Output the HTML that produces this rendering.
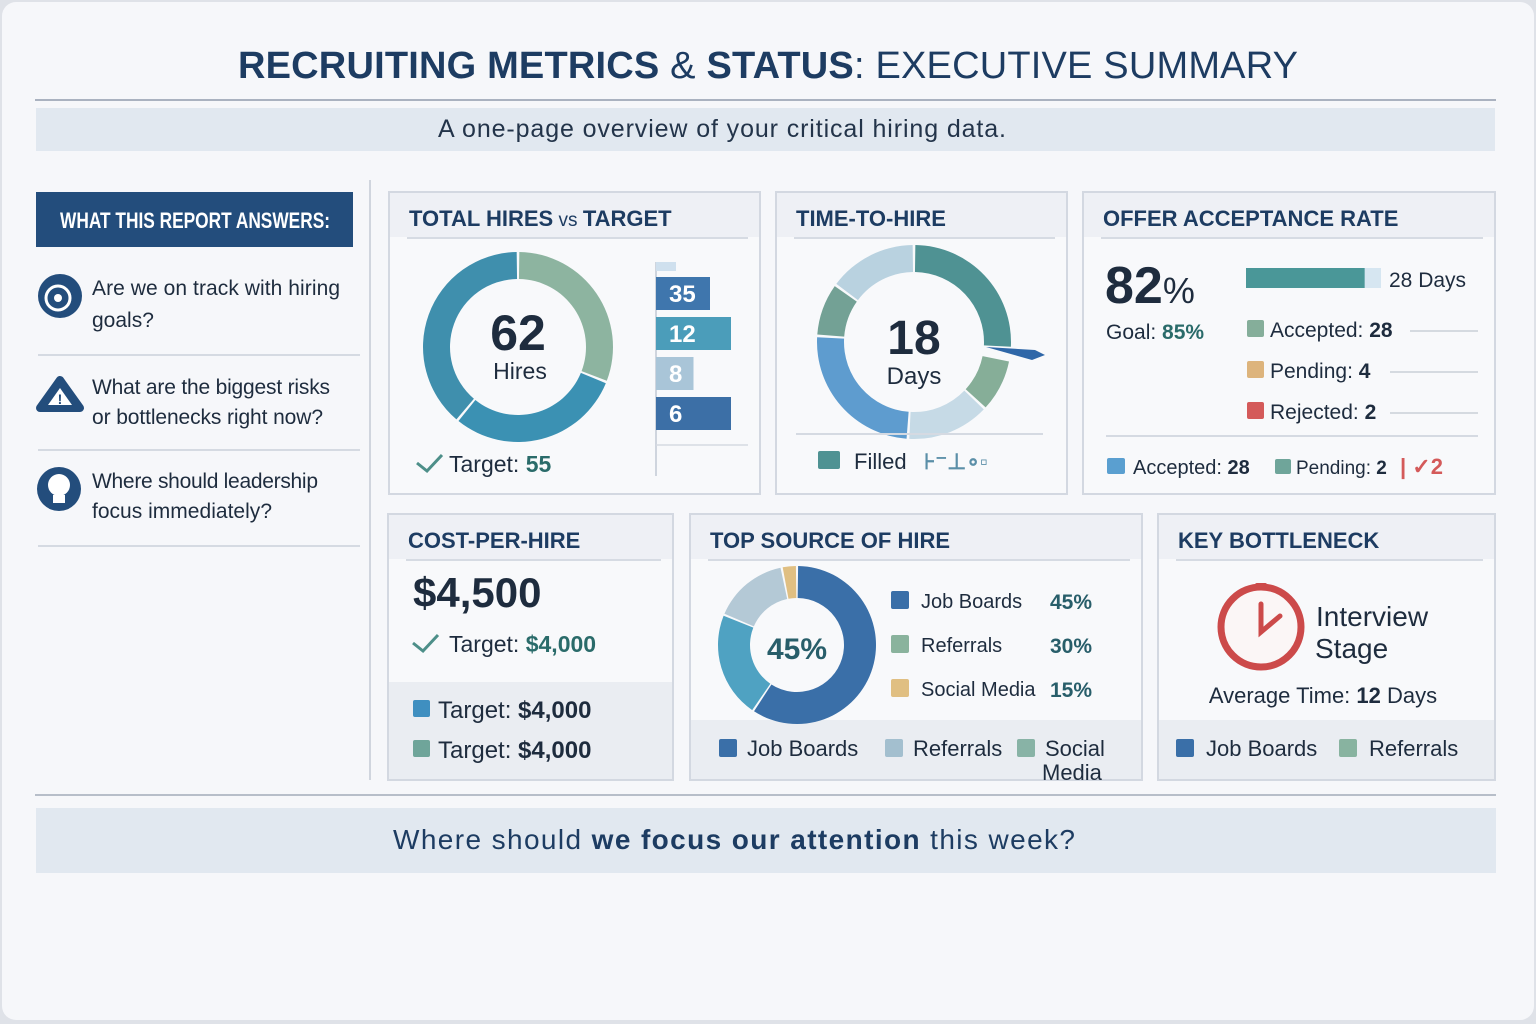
<!DOCTYPE html>
<html><head><meta charset="utf-8"><style>
html,body{margin:0;padding:0;background:#eceef3;}
svg{display:block;font-family:"Liberation Sans",sans-serif;}
.h{font-weight:bold;fill:#1d3c62;}
.t{fill:#1e2c3e;}
</style></head><body>
<svg id="root" width="1536" height="1024" viewBox="0 0 1536 1024">
<rect x="0" y="0" width="1536" height="1024" fill="#dfe2e8"/>
<rect x="2" y="2" width="1532" height="1018" rx="14" fill="#f6f7fa"/>
<text x="768" y="78" text-anchor="middle" font-size="38" class="h" textLength="1060">RECRUITING METRICS <tspan font-weight="normal">&amp;</tspan> STATUS<tspan font-weight="normal">: EXECUTIVE SUMMARY</tspan></text>
<line x1="35" y1="100" x2="1496" y2="100" stroke="#aab2c0" stroke-width="2"/>
<rect x="36" y="108" width="1459" height="43" fill="#e1e8f0"/>
<text x="722" y="137" text-anchor="middle" font-size="25" fill="#23344a" textLength="568">A one-page overview of your critical hiring data.</text>

<!-- left panel -->
<rect x="36" y="192" width="317" height="55" fill="#234d7c"/>
<text x="60" y="228" font-size="22" font-weight="bold" fill="#fff" textLength="270" lengthAdjust="spacingAndGlyphs">WHAT THIS REPORT ANSWERS:</text>
<line x1="370" y1="180" x2="370" y2="780" stroke="#d0d5de" stroke-width="2"/>
<g>
<circle cx="60" cy="296" r="22" fill="#234d7c"/><circle cx="58" cy="298" r="12" fill="none" stroke="#fff" stroke-width="3"/><circle cx="58" cy="298" r="4" fill="#fff"/>
<text x="92" y="295" font-size="21" class="t" textLength="248">Are we on track with hiring</text><text x="92" y="327" font-size="21" class="t">goals?</text></g>
<line x1="38" y1="355" x2="360" y2="355" stroke="#d5dae2" stroke-width="2"/>
<g>
<path d="M60 380 L80 408 L40 408 Z" fill="#234d7c" stroke="#234d7c" stroke-width="8" stroke-linejoin="round"/><path d="M60 388 L72 405 L48 405 Z" fill="#fff"/><text x="60" y="404" text-anchor="middle" font-size="14" font-weight="bold" fill="#234d7c">!</text>
<text x="92" y="394" font-size="21" class="t" textLength="238">What are the biggest risks</text><text x="92" y="424" font-size="21" class="t" textLength="231">or bottlenecks right now?</text></g>
<line x1="38" y1="450" x2="360" y2="450" stroke="#d5dae2" stroke-width="2"/>
<g>
<circle cx="59" cy="489" r="22" fill="#234d7c"/><circle cx="59" cy="485" r="11" fill="#fff"/><rect x="53" y="495" width="12" height="8" fill="#fff"/>
<text x="92" y="488" font-size="21" class="t" textLength="226">Where should leadership</text><text x="92" y="518" font-size="21" class="t" textLength="180">focus immediately?</text></g>
<line x1="38" y1="546" x2="360" y2="546" stroke="#d5dae2" stroke-width="2"/>

<g id="cards"></g>
<g id="charts"></g>

<line x1="35" y1="795" x2="1496" y2="795" stroke="#b7bec9" stroke-width="2"/>
<rect x="36" y="808" width="1460" height="65" fill="#e1e8f0"/>
<text x="734" y="849" text-anchor="middle" font-size="28" fill="#1d3c62" textLength="682">Where should <tspan font-weight="bold">we focus our attention</tspan> this week?</text>
</svg>
<script>
const NS="http://www.w3.org/2000/svg";
const cardsG=document.getElementById('cards');
const chartsG=document.getElementById('charts');
function mk(tag,attrs,parent,text){const e=document.createElementNS(NS,tag);for(const k in attrs)e.setAttribute(k,attrs[k]);if(text!==undefined)e.textContent=text;(parent||chartsG).appendChild(e);return e;}

// ---- data ----
const hiresTotal=62, hiresTarget=55;
const hiresSegLabels=['Referrals','Agency','Job Boards'];
const hiresSegValues=[31,30,39];
const hiresSegColors=['#8db4a0','#3b91b3','#3f8fad'];
const barLabels=[35,12,8,6];
const barValues=[72,100,50,100];
const barColors=['#3f76ad','#4b9dba','#a9c5d8','#3c6fa6'];
const tthDays=18;
const tthSegValues=[26,2,9,14,25,9,15];
const tthSegColors=['#4f9293','#f6f7fa','#86ae98','#c6dae6','#5e9ccf','#73a195','#b9d2e0'];
const offerRate=82, offerGoal=85;
const offerBarValues=[88,12];
const offerStatusLabels=['Accepted','Pending','Rejected'];
const offerStatusValues=[28,4,2];
const offerStatusColors=['#85ae9a','#ddb47c','#d45a5a'];
const sourceLabels=['Job Boards','Referrals','Social Media'];
const sourceValues=[45,30,15];
const sourceDonutValues=[57,21,15,3];
const sourceDonutColors=['#3a6fa8','#4fa2c2','#b4c9d6','#e0bf82'];
const sourceLegendColors=['#3a6fa8','#8ab39d','#e0bf82'];

// ---- cards ----
const cards=[
 ['total-hires-card',389,192,371,302,'TOTAL HIRES',' vs ','TARGET'],
 ['time-to-hire-card',776,192,291,302,'TIME-TO-HIRE'],
 ['offer-acceptance-card',1083,192,412,302,'OFFER ACCEPTANCE RATE'],
 ['cost-per-hire-card',388,514,285,266,'COST-PER-HIRE'],
 ['top-source-card',690,514,452,266,'TOP SOURCE OF HIRE'],
 ['key-bottleneck-card',1158,514,337,266,'KEY BOTTLENECK']];
cards.forEach(c=>{
 const g=mk('g',{},cardsG);
 
 
 mk('rect',{x:c[1],y:c[2],width:c[3],height:c[4],fill:'#f8f9fb',stroke:'#d3d8e1','stroke-width':2},g);
 mk('rect',{x:c[1]+1,y:c[2]+1,width:c[3]-2,height:44,fill:'#eef0f5'},g);
 mk('line',{x1:c[1]+18,y1:c[2]+46,x2:c[1]+c[3]-12,y2:c[2]+46,stroke:'#d6dbe3','stroke-width':2},g);
 const t=mk('text',{x:c[1]+20,y:c[2]+34,'font-size':22,class:'h'},g);
 
 
 t.textContent=c[5];
 if(c[6]){mk('tspan',{'font-weight':'normal','font-size':19},t,c[6]);mk('tspan',{},t,c[7]);}
});

function arc(cx,cy,r0,r1,a0,a1){
 const rad=a=>(a-90)*Math.PI/180;
 const p=(r,a)=>[cx+r*Math.cos(rad(a)),cy+r*Math.sin(rad(a))];
 const L=(a1-a0)>180?1:0;
 const [x0,y0]=p(r1,a0),[x1,y1]=p(r1,a1),[x2,y2]=p(r0,a1),[x3,y3]=p(r0,a0);
 return `M${x0} ${y0} A${r1} ${r1} 0 ${L} 1 ${x1} ${y1} L${x2} ${y2} A${r0} ${r0} 0 ${L} 0 ${x3} ${y3}Z`;
}
function donut(cx,cy,r0,r1,vals,cols,name,gap){
 const tot=vals.reduce((a,b)=>a+b,0);let a=0;
 vals.forEach((v,i)=>{const a1=a+v/tot*360;
  if(cols[i]!=='#f6f7fa'){const s=mk('path',{d:arc(cx,cy,r0,r1,a+gap,a1-gap),fill:cols[i]});
  
  }
  a=a1;});
}

// total hires
donut(518,347,68,95,hiresSegValues,hiresSegColors,'hires-donut',0.8);
mk('text',{x:518,y:350,'text-anchor':'middle','font-size':50,'font-weight':'bold',fill:'#1e2c3e'},chartsG,hiresTotal);
mk('text',{x:520,y:379,'text-anchor':'middle','font-size':23,fill:'#1e2c3e'},chartsG,'Hires');
mk('path',{d:'M417 463 L427 471 L442 455',fill:'none',stroke:'#4d8f89','stroke-width':3});
const tg=mk('text',{x:449,y:472,'font-size':23,fill:'#1e2c3e'},chartsG,'Target: ');
mk('tspan',{fill:'#2a6b6a','font-weight':'bold'},tg,hiresTarget);
mk('line',{x1:656,y1:262,x2:656,y2:476,stroke:'#cfd5de','stroke-width':2});
mk('line',{x1:656,y1:445,x2:748,y2:445,stroke:'#d5dae2','stroke-width':1.5});
mk('rect',{x:656,y:262,width:20,height:9,fill:'#cfe0ee'});
const bx=v=>v/100*75;
barLabels.forEach((l,i)=>{const y=277+i*40;
 const r=mk('rect',{x:656,y:y,width:bx(barValues[i]),height:33,fill:barColors[i]});
 
 
 mk('text',{x:669,y:y+25,'font-size':24,'font-weight':'bold',fill:'#fff'},chartsG,l);});

// time to hire
donut(914,342,70,97,tthSegValues,tthSegColors,'tth-donut',0.8);
mk('path',{d:'M986 347 L1035 350 L1045 355 L1032 360 Z',fill:'#2f67a8'});
mk('text',{x:914,y:354,'text-anchor':'middle','font-size':48,'font-weight':'bold',fill:'#1e2c3e'},chartsG,tthDays);
mk('text',{x:914,y:384,'text-anchor':'middle','font-size':24,fill:'#1e2c3e'},chartsG,'Days');
mk('line',{x1:796,y1:434,x2:1043,y2:434,stroke:'#d5dae2','stroke-width':2});
mk('rect',{x:818,y:451,width:22,height:18,rx:2,fill:'#4f9293'});
mk('text',{x:854,y:469,'font-size':22,fill:'#1e2c3e'},chartsG,'Filled');
mk('text',{x:924,y:469,'font-size':22,'font-weight':'bold',fill:'#5b8fa8'},chartsG,'⊦⁻⊥∘▫');

// offer acceptance
const ot=mk('text',{x:1105,y:303,'font-size':52,'font-weight':'bold',fill:'#1e2c3e'},chartsG,offerRate);
mk('tspan',{'font-size':36,'font-weight':'normal'},ot,'%');
const og=mk('text',{x:1106,y:339,'font-size':21,fill:'#1e2c3e'},chartsG,'Goal: ');
mk('tspan',{fill:'#2a6b6a','font-weight':'bold'},og,offerGoal+'%');
const ox=v=>v/100*135;
let ocur=1246;
offerBarValues.forEach((v,i)=>{const r=mk('rect',{x:ocur,y:268,width:ox(v),height:20,fill:i?'#d6e6f1':'#4a9798'});
 
 ocur+=ox(v);});
mk('text',{x:1389,y:287,'font-size':21,fill:'#1e2c3e'},chartsG,'28 Days');
offerStatusLabels.forEach((l,i)=>{const y=329+i*41;
 mk('rect',{x:1247,y:y-9,width:17,height:17,rx:2,fill:offerStatusColors[i]});
 const t=mk('text',{x:1270,y:y+8,'font-size':21,fill:'#1e2c3e'},chartsG,l+': ');
 mk('tspan',{'font-weight':'bold'},t,offerStatusValues[i]);
 mk('line',{x1:1390+(i?0:20),y1:y+2,x2:1478,y2:y+2,stroke:'#c9cfd8','stroke-width':1.5});});
mk('line',{x1:1106,y1:436,x2:1478,y2:436,stroke:'#d5dae2','stroke-width':2});
mk('rect',{x:1107,y:458,width:18,height:16,rx:2,fill:'#5a9fd0'});
const oa=mk('text',{x:1133,y:474,'font-size':20,fill:'#1e2c3e'},chartsG,'Accepted: ');mk('tspan',{'font-weight':'bold'},oa,28);
mk('rect',{x:1275,y:459,width:16,height:15,rx:2,fill:'#6fa59a'});
const op=mk('text',{x:1296,y:474,'font-size':19,fill:'#1e2c3e'},chartsG,'Pending: ');mk('tspan',{'font-weight':'bold'},op,2);
mk('text',{x:1400,y:474,'font-size':22,fill:'#d45a5a','font-weight':'bold'},chartsG,'| ✓2');

// cost per hire
mk('text',{x:413,y:607,'font-size':42,'font-weight':'bold',fill:'#1e2c3e'},chartsG,'$4,500');
mk('path',{d:'M413 643 L423 651 L438 635',fill:'none',stroke:'#4d8f89','stroke-width':3});
const ct=mk('text',{x:449,y:652,'font-size':23,fill:'#1e2c3e'},chartsG,'Target: ');mk('tspan',{fill:'#2a6b6a','font-weight':'bold'},ct,'$4,000');
mk('rect',{x:389,y:682,width:283,height:97,fill:'#eaedf2'});
[['#3f8fc0',710],['#6fa59a',750]].forEach(([c,y])=>{mk('rect',{x:413,y:y-10,width:17,height:17,rx:2,fill:c});
 const t=mk('text',{x:438,y:y+8,'font-size':24,fill:'#1e2c3e'},chartsG,'Target: ');mk('tspan',{'font-weight':'bold'},t,'$4,000');});

// top source
mk('rect',{x:691,y:720,width:450,height:59,fill:'#eaedf2'});
donut(797,645,47,79,sourceDonutValues,sourceDonutColors,'source-donut',0.8);
mk('text',{x:797,y:659,'text-anchor':'middle','font-size':30,'font-weight':'bold',fill:'#285e6a'},chartsG,sourceValues[0]+'%');
sourceLabels.forEach((l,i)=>{const y=600+i*44;
 const s=mk('rect',{x:891,y:y-9,width:18,height:18,rx:2,fill:sourceLegendColors[i]});
 
 
 mk('text',{x:921,y:y+8,'font-size':20,fill:'#1e2c3e'},chartsG,l);
 mk('text',{x:1092,y:y+9,'text-anchor':'end','font-size':21,'font-weight':'bold',fill:'#285e6a'},chartsG,sourceValues[i]+'%');});
[['#3a6fa8',719,'Job Boards'],['#a3bfcf',885,'Referrals'],['#88b3a6',1017,'Social']].forEach(([c,x,l])=>{
 mk('rect',{x:x,y:739,width:18,height:18,rx:2,fill:c});mk('text',{x:x+28,y:756,'font-size':22,fill:'#1e2c3e'},chartsG,l);});
mk('text',{x:1042,y:780,'font-size':22,fill:'#1e2c3e'},chartsG,'Media');

// bottleneck
mk('rect',{x:1255,y:583,width:12,height:8,rx:2,fill:'#cc4a4a'});
mk('circle',{cx:1261,cy:627,r:40,fill:'#fbf6f6',stroke:'#cc4a4a','stroke-width':7});
mk('path',{d:'M1261 604 L1261 632 L1280 616',fill:'none',stroke:'#cc4a4a','stroke-width':5,'stroke-linecap':'round'});
mk('text',{x:1316,y:626,'font-size':28,fill:'#1e2c3e'},chartsG,'Interview');
mk('text',{x:1315,y:658,'font-size':28,fill:'#1e2c3e'},chartsG,'Stage');
const at=mk('text',{x:1323,y:703,'text-anchor':'middle','font-size':22,fill:'#1e2c3e'},chartsG,'Average Time: ');mk('tspan',{'font-weight':'bold'},at,'12');mk('tspan',{},at,' Days');
mk('rect',{x:1159,y:720,width:335,height:59,fill:'#eaedf2'});
[['#3a6fa8',1176,'Job Boards'],['#88b3a0',1339,'Referrals']].forEach(([c,x,l])=>{
 mk('rect',{x:x,y:739,width:18,height:18,rx:2,fill:c});mk('text',{x:x+30,y:756,'font-size':22,fill:'#1e2c3e'},chartsG,l);});
</script>
</body></html>
